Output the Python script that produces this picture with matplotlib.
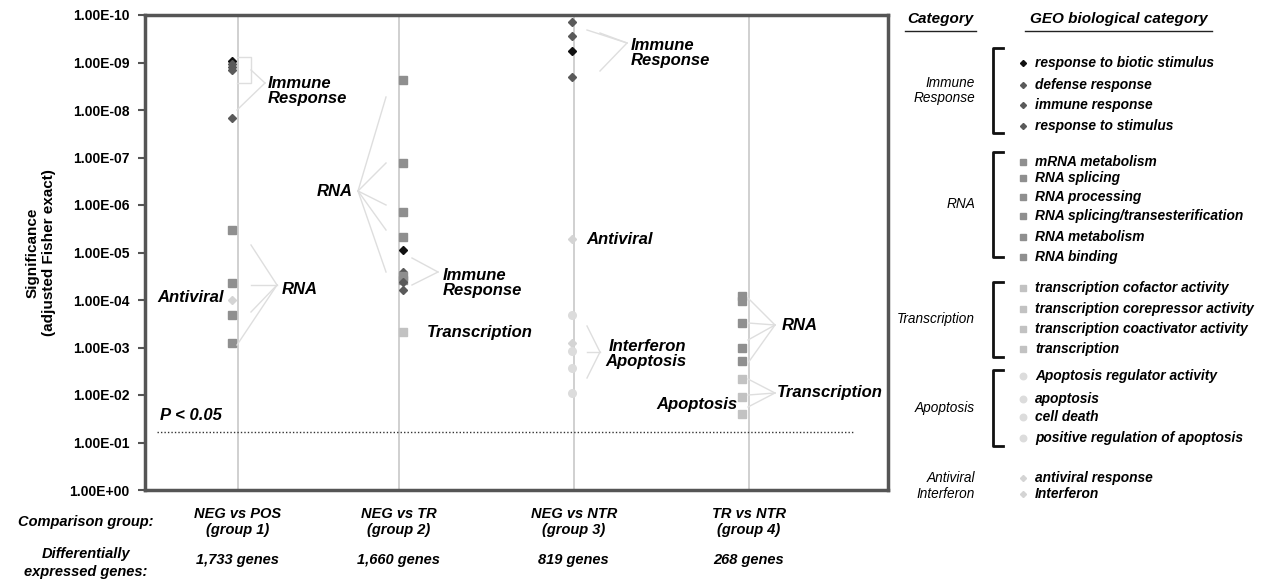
import numpy as np
import matplotlib.pyplot as plt
from matplotlib.ticker import NullLocator

plt.rcParams['font.family'] = ['Liberation Sans', 'DejaVu Sans']

# ---- data (adjusted Fisher exact p-values per comparison group) ----
groups = ['NEG vs POS\n(group 1)', 'NEG vs TR\n(group 2)', 'NEG vs NTR\n(group 3)', 'TR vs NTR\n(group 4)']
gene_counts = ['1,733 genes', '1,660 genes', '819 genes', '268 genes']
group_x = [0.53, 1.45, 2.45, 3.45]

g1_p = [9.3e-10, 1.07e-9, 1.24e-9, 1.44e-9, 1.5e-8, 3.4e-6, 4.4e-5, 1.0e-4, 2.1e-4, 8.1e-4]
g1_kind = ['biotic', 'immune', 'immune', 'immune', 'immune', 'rna', 'rna', 'antiviral', 'rna', 'rna']

g2_p = [2.3e-9, 1.3e-7, 1.4e-6, 4.7e-6, 8.9e-6, 2.6e-5, 3.1e-5, 3.8e-5, 4.2e-5, 6.2e-5, 4.7e-4]
g2_kind = ['rna', 'rna', 'rna', 'rna', 'biotic', 'immune', 'rna', 'rna', 'immune', 'immune', 'transcription']

g3_p = [1.4e-10, 2.8e-10, 5.7e-10, 2.0e-9, 5.2e-6, 2.1e-4, 8.1e-4, 1.2e-3, 2.7e-3, 9.1e-3]
g3_kind = ['immune', 'immune', 'biotic', 'immune', 'antiviral', 'apoptosis', 'antiviral', 'apoptosis', 'apoptosis', 'apoptosis']

g4_p = [8.3e-5, 1.05e-4, 3.0e-4, 1.0e-3, 1.9e-3, 4.6e-3, 1.1e-2, 2.5e-2]
g4_kind = ['rna', 'rna', 'rna', 'rna', 'rna', 'transcription', 'transcription', 'transcription']

p_cut = 0.06

styles = {
    'biotic': dict(marker='D', color='#111111', ms=3.6),
    'immune': dict(marker='D', color='#5a5a5a', ms=3.6),
    'rna': dict(marker='s', color='#8f8f8f', ms=5.5),
    'transcription': dict(marker='s', color='#c2c2c2', ms=5.5),
    'apoptosis': dict(marker='o', color='#dcdcdc', ms=5.5),
    'antiviral': dict(marker='D', color='#d4d4d4', ms=3.6),
}

legend_groups = [
    ('Immune\nResponse', [('response to biotic stimulus', 'biotic'), ('defense response', 'immune'),
                          ('immune response', 'immune'), ('response to stimulus', 'immune')]),
    ('RNA', [('mRNA metabolism', 'rna'), ('RNA splicing', 'rna'), ('RNA processing', 'rna'),
             ('RNA splicing/transesterification', 'rna'), ('RNA metabolism', 'rna'), ('RNA binding', 'rna')]),
    ('Transcription', [('transcription cofactor activity', 'transcription'),
                       ('transcription corepressor activity', 'transcription'),
                       ('transcription coactivator activity', 'transcription'),
                       ('transcription', 'transcription')]),
    ('Apoptosis', [('Apoptosis regulator activity', 'apoptosis'), ('apoptosis', 'apoptosis'),
                   ('cell death', 'apoptosis'), ('positive regulation of apoptosis', 'apoptosis')]),
    ('Antiviral\nInterferon', [('antiviral response', 'antiviral'), ('Interferon', 'antiviral')]),
]

W, H = 1263, 583
fig = plt.figure(figsize=(12.63, 5.83), dpi=100)
AX_L, AX_R, AX_T, AX_B = 145, 888, 15, 490
ax = fig.add_axes([AX_L / W, 1 - AX_B / H, (AX_R - AX_L) / W, (AX_B - AX_T) / H])
over = fig.add_axes([0, 0, 1, 1])
over.set_xlim(0, W)
over.set_ylim(H, 0)
over.axis('off')
over.patch.set_visible(False)

ax.set_yscale('log')
ax.set_ylim(1, 1e-10)
ax.set_xlim(0, (AX_R - AX_L) / 175)
ax.set_yticks([10.0 ** -k for k in range(11)])
ax.set_yticklabels([f'{10.0 ** -k:.2E}' for k in range(11)], fontsize=10, fontweight='bold')
ax.yaxis.set_minor_locator(NullLocator())
ax.set_xticks([])
ax.tick_params(axis='y', direction='out', length=5, width=1.5, color='#555555', pad=6)
for s in ax.spines.values():
    s.set_color('#555555')
    s.set_linewidth(2.5)

for gx in group_x:
    ax.axvline(gx, color='#c8c8c8', lw=1.2, zorder=1)

offsets = [-6, 4, -2, -7]
for gx, off, ps, kinds in zip(group_x, offsets, [g1_p, g2_p, g3_p, g4_p], [g1_kind, g2_kind, g3_kind, g4_kind]):
    for p, k in zip(ps, kinds):
        st = styles[k]
        ax.plot(gx + off / 175, p, linestyle='none', marker=st['marker'], color=st['color'],
                ms=st['ms'], mec=st['color'], zorder=3)

ax.plot([(157 - AX_L) / 175, (854 - AX_L) / 175], [p_cut, p_cut], linestyle=(0, (1, 1.5)),
        color='#333333', lw=1)

ax.set_ylabel('Significance\n(adjusted Fisher exact)', fontsize=11, fontweight='bold', labelpad=10)

# ---- callout fans (pixel coords on overlay) ----
fan_col = '#dedede'
def fan(ends, tip):
    for e in ends:
        over.plot([e[0], tip[0]], [e[1], tip[1]], color=fan_col, lw=1)

over.plot([237, 251, 251, 237], [57, 57, 83, 83], color=fan_col, lw=1)
fan([(251, 70), (237, 110)], (265, 83))
fan([(251, 245), (251, 285), (251, 312), (237, 345)], (277, 285))
fan([(386, 97), (386, 163), (386, 205), (386, 230), (386, 272)], (358, 191))
fan([(412, 258), (412, 285)], (438, 272))
fan([(587, 30), (600, 33), (600, 71)], (627, 43))
fan([(587, 326), (587, 352), (587, 378)], (600, 352))
fan([(748, 298), (748, 323), (748, 340), (748, 363)], (775, 325))
fan([(748, 379), (748, 395), (748, 407)], (775, 393))

lab = dict(fontsize=12, fontweight='bold', style='italic', va='center')
over.text(268, 91, 'Immune\nResponse', ha='left', linespacing=1.05, **lab)
over.text(282, 289, 'RNA', ha='left', **lab)
over.text(224, 298, 'Antiviral', ha='right', **lab)
over.text(353, 192, 'RNA', ha='right', **lab)
over.text(443, 283, 'Immune\nResponse', ha='left', linespacing=1.05, **lab)
over.text(427, 332, 'Transcription', ha='left', **lab)
over.text(631, 53, 'Immune\nResponse', ha='left', linespacing=1.05, **lab)
over.text(586, 240, 'Antiviral', ha='left', **lab)
over.text(605, 354, 'Interferon\nApoptosis', ha='left', linespacing=0.95, multialignment='right', **lab)
over.text(782, 326, 'RNA', ha='left', **lab)
over.text(777, 393, 'Transcription', ha='left', **lab)
over.text(737, 404, 'Apoptosis', ha='right', **lab)
over.text(160, 415, 'P < 0.05', ha='left', **lab)

# ---- bottom labels ----
bl = dict(fontsize=10.5, fontweight='bold', style='italic', ha='center', va='center')
over.text(86, 522, 'Comparison group:', **bl)
over.text(86, 563, 'Differentially\nexpressed genes:', linespacing=1.3, **bl)
for gx, g, n in zip(group_x, groups, gene_counts):
    px = AX_L + gx * 175
    over.text(px, 522, g, linespacing=1.1, **bl)
    over.text(px, 560, n, **bl)

# ---- legend on the right ----
hd = dict(fontsize=11, fontweight='bold', style='italic', ha='center', va='center')
over.text(940, 19, 'Category', **hd)
over.plot([905, 976], [31, 31], color='#222222', lw=1)
over.text(1119, 19, 'GEO biological category', **hd)
over.plot([1025, 1212], [31, 31], color='#222222', lw=1)

item_y = [[63, 85, 105, 126], [162, 178, 197, 216, 237, 257], [288, 309, 329, 349],
          [376, 399, 417, 438], [478, 494]]
brackets = [(48, 133), (152, 257), (282, 357), (370, 446), None]
for (cat, items), ys, br in zip(legend_groups, item_y, brackets):
    if br is not None:
        over.plot([1003, 993, 993, 1003], [br[0], br[0], br[1], br[1]], color='#111111', lw=2)
        cy = (br[0] + br[1]) / 2
    else:
        cy = (ys[0] + ys[-1]) / 2
    over.text(975, cy, cat, fontsize=9.8, style='italic', ha='right', va='center', linespacing=1.15)
    for (name, kind), y in zip(items, ys):
        st = styles[kind]
        over.plot(1023, y, linestyle='none', marker=st['marker'], color=st['color'],
                  ms=st['ms'] * 0.85, mec=st['color'])
        over.text(1035, y, name, fontsize=9.9, fontweight='bold', style='italic', ha='left', va='center')

fig.savefig('out.png', dpi=100)
